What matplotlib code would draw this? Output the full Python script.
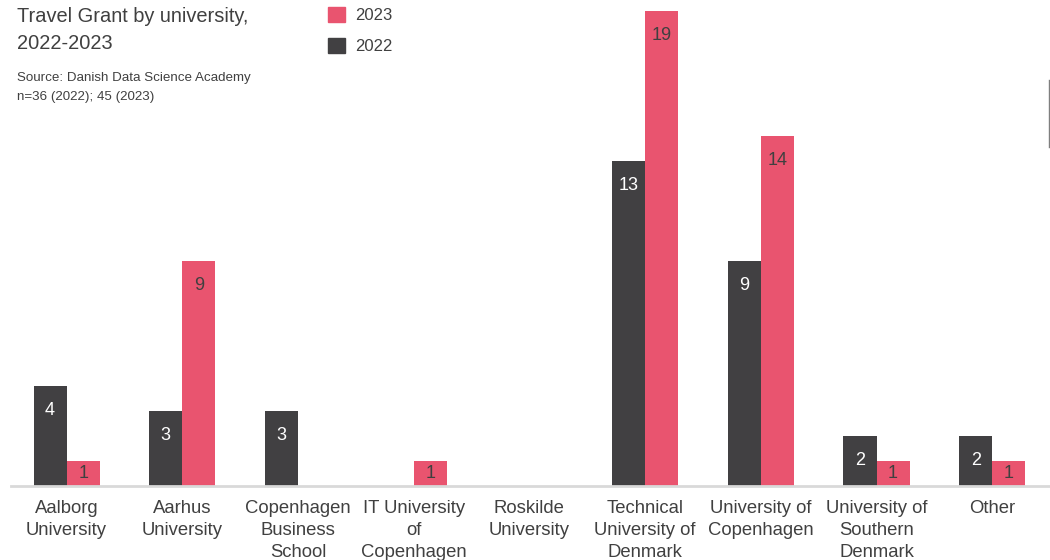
import matplotlib.pyplot as plt
from matplotlib.patches import Patch
from matplotlib.lines import Line2D
import numpy as np

plt.rcParams['font.family'] = ['Liberation Sans', 'DejaVu Sans']

universities = ["Aalborg\nUniversity", "Aarhus\nUniversity", "Copenhagen\nBusiness\nSchool",
                "IT University\nof\nCopenhagen", "Roskilde\nUniversity", "Technical\nUniversity of\nDenmark",
                "University of\nCopenhagen", "University of\nSouthern\nDenmark", "Other"]
grants_2022 = [4, 3, 3, 0, 0, 13, 9, 2, 2]
grants_2023 = [1, 9, 0, 1, 0, 19, 14, 1, 1]

dark = "#414042"
pink = "#E9546F"
text_col = "#404040"

fig = plt.figure(figsize=(10.5, 5.6), dpi=100)
ax = fig.add_axes([0.010, 0.132, 0.989, 0.868])

x = np.arange(len(universities))
w = 0.286
ax.bar(x - w / 2, grants_2022, w, color=dark)
ax.bar(x + w / 2, grants_2023, w, color=pink)

for xi, v in zip(x, grants_2022):
    if v > 0:
        ax.text(xi - w / 2, v - min(0.97, v / 2), str(v), ha="center", va="center",
                color="white", fontsize=13)
for xi, v in zip(x, grants_2023):
    if v > 0:
        ax.text(xi + w / 2, v - min(0.97, v / 2), str(v), ha="center", va="center",
                color=text_col, fontsize=13)

ax.set_xlim(-0.485, 8.49)
ax.set_ylim(0, 19.44)
for s in ["top", "right", "left"]:
    ax.spines[s].set_visible(False)
ax.spines["bottom"].set_color("#d9d9d9")
ax.spines["bottom"].set_linewidth(2)
ax.set_yticks([])
ax.set_xticks(x)
ax.set_xticklabels(universities, fontsize=13.3, color=text_col, linespacing=1.4)
ax.tick_params(axis="x", length=0, pad=10)

fig.text(0.016, 0.988, "Travel Grant by university,\n2022-2023", fontsize=14.4,
         color=text_col, va="top", linespacing=1.55)
fig.text(0.016, 0.871, "Source: Danish Data Science Academy\nn=36 (2022); 45 (2023)",
         fontsize=9.6, color=text_col, va="top", linespacing=1.75)

handles = [Patch(color=pink, label="2023"), Patch(color=dark, label="2022")]
fig.legend(handles=handles, loc="upper left", bbox_to_anchor=(0.298, 1.014), frameon=False,
           fontsize=12, handlelength=1.0, handleheight=1.0, labelspacing=0.9,
           handletextpad=0.65, labelcolor=text_col)

fig.add_artist(Line2D([0.999, 0.999], [1 - 80 / 560, 1 - 147 / 560], color="#7f7f7f", lw=1))

fig.savefig("out.png", dpi=100)
